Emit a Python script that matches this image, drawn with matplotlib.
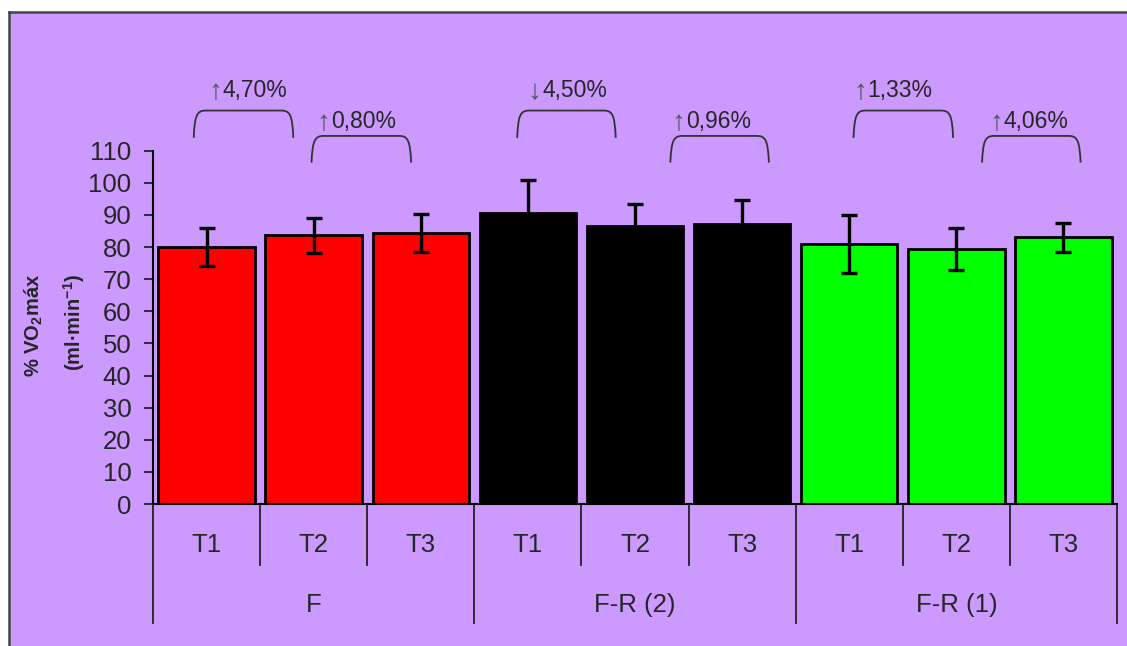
import numpy as np
import matplotlib
matplotlib.use("Agg")
import matplotlib.pyplot as plt
from matplotlib.path import Path
from matplotlib.patches import PathPatch, Rectangle

plt.rcParams['font.family'] = ['Liberation Sans', 'DejaVu Sans']
plt.rcParams['mathtext.fontset'] = 'custom'
plt.rcParams['mathtext.rm'] = 'Liberation Sans'
plt.rcParams['mathtext.bf'] = 'Liberation Sans:bold'

# data
groups = ['F', 'F-R (2)', 'F-R (1)']
times = ['T1', 'T2', 'T3']
means_f = [80.0, 83.7, 84.5]
sd_f = [6.0, 5.5, 5.9]
means_fr2 = [90.5, 86.7, 87.2]
sd_fr2 = [10.5, 6.7, 7.5]
means_fr1 = [81.0, 79.5, 83.0]
sd_fr1 = [9.0, 6.5, 4.5]
change_dir = ['\u2191', '\u2191', '\u2193', '\u2191', '\u2191', '\u2191']
change_pct = ['4,70%', '0,80%', '4,50%', '0,96%', '1,33%', '4,06%']

group_colors = ['#FF0000', '#000000', '#00FF00']
bg = '#CC99FF'
txt = '#262626'

# layout of the change brackets (x in bar units), alternating high / low
bracket_spans = [(-0.12, 0.81), (0.98, 1.91), (2.90, 3.82), (4.33, 5.25), (6.04, 6.97), (7.24, 8.16)]
label_x = [0.05, 1.06, 3.03, 4.37, 6.07, 7.34]

fig = plt.figure(figsize=(11.27, 6.46), dpi=100, facecolor='white')
W, H = 1127, 646

# lilac panel with dark border on left and top
fig.patches.append(Rectangle((9 / W, 0), 1, 1 - 12 / H, transform=fig.transFigure,
                             facecolor=bg, edgecolor='none', zorder=-10))
fig.add_artist(plt.Line2D([9 / W, 9 / W], [0, 1 - 12 / H], color='#444444', lw=1.8,
                          transform=fig.transFigure, zorder=-5))
fig.add_artist(plt.Line2D([9 / W, 1], [1 - 12 / H, 1 - 12 / H], color='#444444', lw=1.8,
                          transform=fig.transFigure, zorder=-5))

ax = fig.add_axes([153 / W, (646 - 504) / H, (1117 - 153) / W, (504 - 150.7) / H])
ax.set_facecolor('none')

all_means = means_f + means_fr2 + means_fr1
all_sd = sd_f + sd_fr2 + sd_fr1
colors = [c for c in group_colors for _ in times]
x = np.arange(len(all_means))

ax.bar(x, all_means, width=0.9, color=colors, edgecolor='black', linewidth=2, zorder=2)
ax.errorbar(x, all_means, yerr=all_sd, fmt='none', ecolor='black', elinewidth=2.4,
            capsize=6, capthick=2.4, zorder=3)

ax.set_xlim(-0.5, len(x) - 0.5)
ax.set_ylim(0, 110)
ax.set_yticks(np.arange(0, 111, 10))
ax.tick_params(axis='y', length=6.5, width=1.3, pad=9, labelsize=18.5, labelcolor=txt, color='#222222')
ax.set_xticks([])
for s in ['top', 'right']:
    ax.spines[s].set_visible(False)
ax.spines['left'].set_linewidth(1.5)
ax.spines['bottom'].set_linewidth(1.5)

# hierarchical category axis
trans = ax.get_xaxis_transform()
for b in np.arange(-0.5, len(x), 1.0):
    outer = (b + 0.5) % 3 == 0
    ax.plot([b, b], [0, -0.337 if outer else -0.173], color='#222222', lw=1.3,
            transform=trans, clip_on=False)
for i in x:
    ax.text(i, -0.116, times[i % 3], ha='center', va='center', fontsize=18.5,
            color=txt, transform=trans)
for g, name in enumerate(groups):
    ax.text(3 * g + 1, -0.286, name, ha='center', va='center', fontsize=18.5,
            color=txt, transform=trans)

# change brackets
px_x = 1 / 107.1
px_y = 110 / 353.3
for k, (x0, x1) in enumerate(bracket_spans):
    high = k % 2 == 0
    yt = 122.5 if high else 114.6
    yb = 114.0 if high else 106.3
    verts = [(x0, yb), (x0 + 1 * px_x, yt - 5 * px_y), (x0 + 3 * px_x, yt), (x0 + 12 * px_x, yt),
             (x1 - 12 * px_x, yt),
             (x1 - 3 * px_x, yt), (x1 - 1 * px_x, yt - 5 * px_y), (x1, yb)]
    codes = [Path.MOVETO, Path.CURVE4, Path.CURVE4, Path.CURVE4, Path.LINETO,
             Path.CURVE4, Path.CURVE4, Path.CURVE4]
    ax.add_patch(PathPatch(Path(verts, codes), facecolor='none', edgecolor='#333333',
                           lw=1.3, clip_on=False))
    ybase = 126.6 if high else 117.0
    ax.text(label_x[k] + 3.5 * px_x, ybase - 0.5, change_dir[k], ha='center', va='baseline',
            fontsize=20, color='#555555', clip_on=False)
    ax.text(label_x[k] + 11 * px_x, ybase, change_pct[k], ha='left', va='baseline',
            fontsize=16.5, color=txt, clip_on=False)

# y label, two lines, bold
fig.text(33.5 / W, 1 - 325 / H, r'% VO$_\mathbf{2}$máx', rotation=90, ha='center', va='center',
         fontsize=14.5, fontweight='bold', color=txt)
fig.text(74 / W, 1 - 322.5 / H, r'(ml·min$^{\mathbf{-1}}$)', rotation=90, ha='center', va='center',
         fontsize=14.5, fontweight='bold', color=txt)

fig.savefig('out.png', dpi=100, facecolor='white')
